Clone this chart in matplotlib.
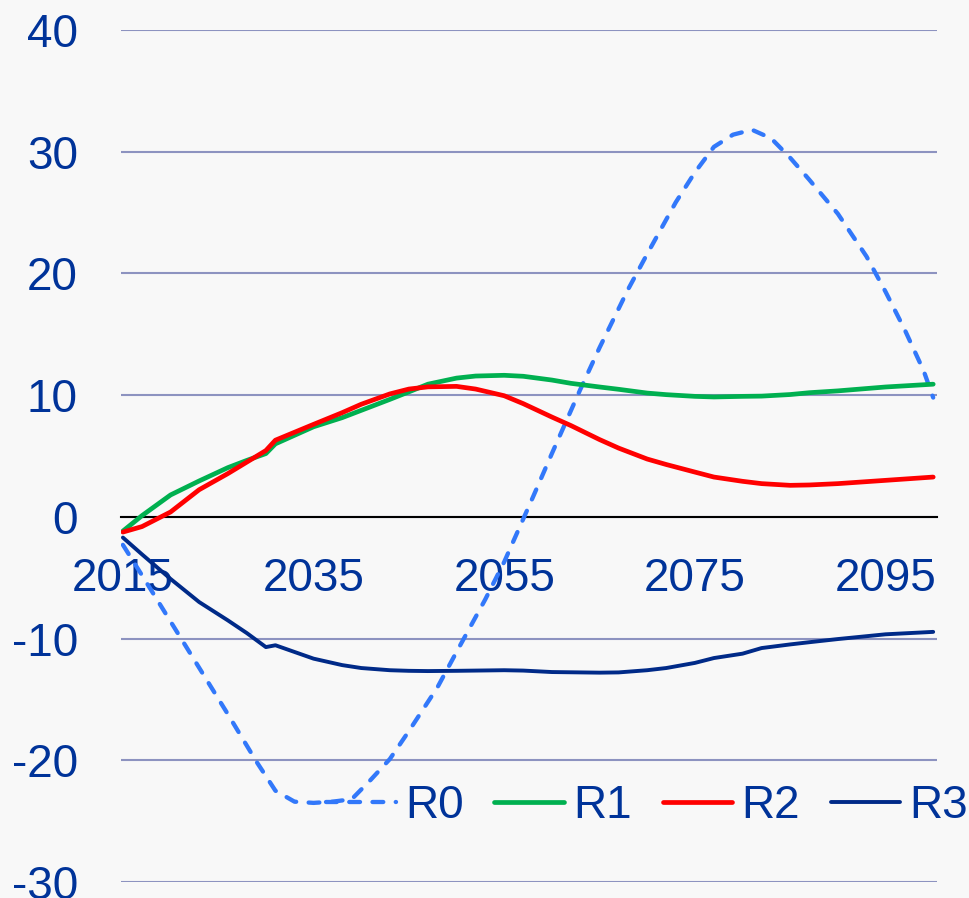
import matplotlib
matplotlib.use("Agg")
import matplotlib.pyplot as plt

plt.rcParams['font.family'] = ['Liberation Sans', 'DejaVu Sans']
plt.rcParams['axes.unicode_minus'] = False

# 读图估计的数据
年份 = [2015, 2017, 2020, 2023, 2026, 2028, 2030, 2031, 2035, 2038, 2040,
      2043, 2045, 2047, 2050, 2052, 2055, 2057, 2060, 2062, 2065, 2067,
      2070, 2072, 2075, 2077, 2080, 2082, 2085, 2087, 2090, 2095, 2100]
R1 = [-1.17, 0.1, 1.8, 2.95, 4.04, 4.64, 5.2, 6.0, 7.4, 8.15, 8.75,
      9.65, 10.27, 10.9, 11.4, 11.57, 11.63, 11.55, 11.24, 10.97, 10.67, 10.48,
      10.17, 10.04, 9.9, 9.85, 9.9, 9.92, 10.05, 10.2, 10.35, 10.67, 10.9]
R2 = [-1.25, -0.8, 0.4, 2.23, 3.55, 4.5, 5.45, 6.3, 7.6, 8.56, 9.25,
      10.1, 10.5, 10.68, 10.72, 10.5, 9.95, 9.3, 8.2, 7.5, 6.35, 5.65,
      4.75, 4.3, 3.68, 3.27, 2.92, 2.73, 2.59, 2.62, 2.73, 3.0, 3.27]
R3 = [-1.7, -3.08, -5.1, -7.0, -8.5, -9.55, -10.7, -10.55, -11.65, -12.18, -12.42,
      -12.6, -12.65, -12.67, -12.65, -12.63, -12.6, -12.63, -12.75, -12.77, -12.8, -12.78,
      -12.6, -12.42, -12.0, -11.6, -11.24, -10.78, -10.48, -10.3, -10.04, -9.65, -9.45]

R0年份 = [2015, 2017, 2020, 2023, 2026, 2029, 2031, 2033, 2035, 2037, 2039,
        2041, 2043, 2045, 2048, 2050, 2053, 2055, 2058, 2060, 2063, 2065,
        2068, 2070, 2073, 2075, 2077, 2079, 2081, 2083, 2085, 2087, 2090,
        2093, 2095, 2097, 2099, 2100]
R0 = [-2.3, -4.8, -8.6, -12.4, -16.2, -20.1, -22.5, -23.4, -23.5, -23.4, -23.2,
      -21.6, -19.9, -17.6, -14.0, -11.1, -6.8, -3.7, 1.6, 5.2, 10.5, 13.9,
      18.7, 21.6, 25.85, 28.3, 30.4, 31.4, 31.8, 31.1, 29.5, 27.7, 24.9,
      21.4, 18.5, 15.4, 12.0, 9.8]

刻度年 = [2015, 2035, 2055, 2075, 2095]
字色 = '#003399'
字号 = 33

fig = plt.figure(figsize=(9.7, 8.98), dpi=100, facecolor='#F8F8F8')
ax = fig.add_axes([121/970, 16/898, 816/970, 852/898])
ax.set_facecolor('#F8F8F8')

ax.plot(R0年份, R0, color='#3278FA', lw=3.1, linestyle=(0, (2.5, 2.9)),
        dash_capstyle='round', label='R0', zorder=3)
ax.plot(年份, R1, color='#00B050', lw=3.4, solid_capstyle='round',
        solid_joinstyle='round', label='R1', zorder=3)
ax.plot(年份, R2, color='#FF0000', lw=3.4, solid_capstyle='round',
        solid_joinstyle='round', label='R2', zorder=3)
ax.plot(年份, R3, color='#002A88', lw=2.8, solid_capstyle='round',
        solid_joinstyle='round', label='R3', zorder=3)

ax.set_xlim(2014.8, 2100.4)
ax.set_ylim(-30, 40)
ax.set_yticks(range(-30, 41, 10))
ax.set_xticks(刻度年)
ax.set_axisbelow(True)
ax.yaxis.grid(True, color='#8D93C0', lw=1.5)

for s in ['left', 'right', 'top']:
    ax.spines[s].set_visible(False)
ax.spines['bottom'].set_position(('data', 0))
ax.spines['bottom'].set_color('black')
ax.spines['bottom'].set_linewidth(1.5)
ax.spines['bottom'].set_zorder(2.5)

ax.tick_params(axis='y', length=0, pad=31, labelsize=字号, labelcolor=字色)
ax.tick_params(axis='x', length=0, pad=29, labelsize=字号, labelcolor=字色)

leg = fig.legend(loc='center right', bbox_to_anchor=(0.998, 1 - 806/898), ncol=4,
                 frameon=False, fontsize=字号, handlelength=1.52, handletextpad=0.2,
                 columnspacing=0.67, borderpad=0, borderaxespad=0)
for t in leg.get_texts():
    t.set_color(字色)

fig.savefig('out.png', dpi=100, facecolor=fig.get_facecolor())
